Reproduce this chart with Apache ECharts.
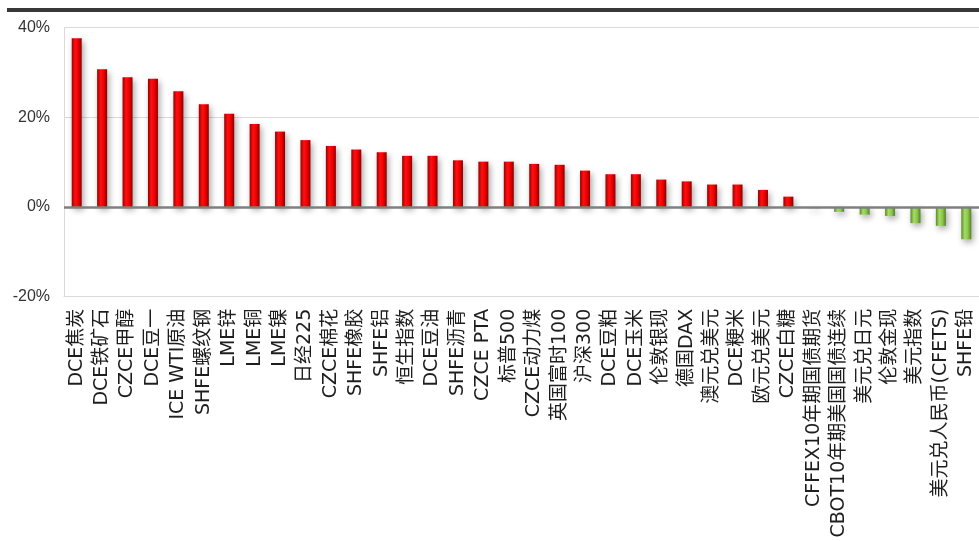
<!DOCTYPE html>
<html>
<head>
<meta charset="utf-8">
<script src="https://cdn.jsdelivr.net/npm/echarts@6/dist/echarts.min.js"></script>
<style>
html,body{margin:0;padding:0;background:#fff;}
#main{width:979px;height:541px;}
</style>
</head>
<body>
<div id="main"></div>
<script>
var categories = ['DCE焦炭','DCE铁矿石','CZCE甲醇','DCE豆一','ICE WTI原油','SHFE螺纹钢','LME锌','LME铜','LME镍','日经225','CZCE棉花','SHFE橡胶','SHFE铝','恒生指数','DCE豆油','SHFE沥青','CZCE PTA','标普500','CZCE动力煤','英国富时100','沪深300','DCE豆粕','DCE玉米','伦敦银现','德国DAX','澳元兑美元','DCE粳米','欧元兑美元','CZCE白糖','CFFEX10年期国债期货','CBOT10年期美国国债连续','美元兑日元','伦敦金现','美元指数','美元兑人民币(CFETS)','SHFE铅'];
var changes = [37.6,30.7,28.9,28.6,25.8,22.9,20.8,18.5,16.8,14.9,13.6,12.8,12.2,11.4,11.4,10.4,10.1,10.1,9.6,9.4,8.1,7.3,7.3,6.1,5.7,5.0,5.0,3.8,2.3,-0.3,-1.1,-1.7,-2.0,-3.6,-4.2,-7.2];
var yTicks = {min:-20, max:40, interval:20};

var redGrad = new echarts.graphic.LinearGradient(0,0,1,0,[
  {offset:0,color:'#9a0000'},{offset:0.35,color:'#ff1010'},{offset:0.65,color:'#f00000'},{offset:1,color:'#8a0000'}]);
var greenGrad = new echarts.graphic.LinearGradient(0,0,1,0,[
  {offset:0,color:'#5c8a2c'},{offset:0.35,color:'#a6dc64'},{offset:0.65,color:'#8cc84e'},{offset:1,color:'#547f28'}]);

var barData = changes.map(function(v){
  return {value:v, itemStyle:{color: v>=0 ? redGrad : greenGrad}};
});

var chart = echarts.init(document.getElementById('main'), null, {renderer:'canvas'});
chart.setOption({
  animation:false,
  backgroundColor:'#ffffff',
  graphic:[{type:'rect', left:7, top:8, shape:{width:972, height:4}, style:{fill:'#383838'}, silent:true}],
  grid:{left:64, top:27.5, bottom:244.3, width:926, containLabel:false},
  xAxis:{
    type:'category', data:categories,
    axisLine:{onZero:false, lineStyle:{color:'#d9d9d9', width:1}},
    axisTick:{show:false},
    axisLabel:{interval:0, rotate:90, margin:12, fontSize:19, color:'#1e1e1e',
      fontFamily:'"DejaVu Sans", "Noto Sans CJK SC", sans-serif'}
  },
  yAxis:{
    type:'value', min:yTicks.min, max:yTicks.max, interval:yTicks.interval,
    axisLine:{show:true, lineStyle:{color:'#d9d9d9', width:1}},
    axisTick:{show:false},
    splitLine:{lineStyle:{color:'#d9d9d9', width:1}},
    axisLabel:{formatter:'{value}%', fontSize:16, color:'#333', margin:14,
      fontFamily:'"Liberation Sans Narrow", "Liberation Sans", sans-serif'}
  },
  series:[{
    type:'bar', data:barData, barWidth:10,
    itemStyle:{shadowColor:'rgba(0,0,0,0.35)', shadowBlur:6, shadowOffsetX:2, shadowOffsetY:3},
    markLine:{silent:true, symbol:['none','none'], label:{show:false},
      lineStyle:{color:'#7f7f7f', width:2.5, type:'solid'},
      data:[{yAxis:0}]}
  }]
});
</script>
</body>
</html>
